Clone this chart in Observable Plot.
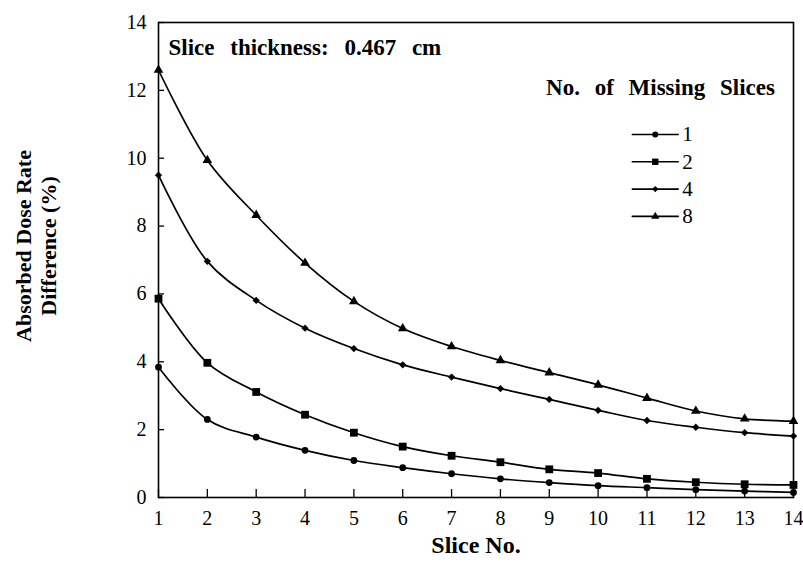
<!DOCTYPE html>
<html>
<head>
<meta charset="utf-8">
<script src="https://cdn.jsdelivr.net/npm/d3@7"></script>
<script src="https://cdn.jsdelivr.net/npm/@observablehq/plot@0.6"></script>
<style>
  body { margin: 0; background: #fff; }
  #chart { position: relative; width: 803px; height: 584px; }
  #chart svg { display: block; }
  #ytitle {
    position: absolute; left: 36px; top: 246px;
    transform: translate(-50%, -50%) rotate(-90deg);
    font-family: 'Liberation Serif', 'Times New Roman', serif;
    font-weight: bold; font-size: 22px; line-height: 25px;
    text-align: center; white-space: nowrap; color: #000;
  }
</style>
</head>
<body>
<div id="chart"><div id="ytitle">Absorbed Dose Rate<br>Difference (%)</div></div>
<script>
// Slice numbers along the x axis
const sliceNo = [1, 2, 3, 4, 5, 6, 7, 8, 9, 10, 11, 12, 13, 14];

// Absorbed dose rate difference (%) for each number of missing slices
const missing1 = [3.84, 2.30, 1.78, 1.39, 1.09, 0.88, 0.70, 0.55, 0.44, 0.35, 0.29, 0.23, 0.19, 0.15];
const missing2 = [5.86, 3.97, 3.11, 2.44, 1.91, 1.50, 1.23, 1.04, 0.83, 0.72, 0.55, 0.45, 0.39, 0.37];
const missing4 = [9.50, 6.96, 5.81, 4.99, 4.39, 3.91, 3.55, 3.21, 2.89, 2.57, 2.27, 2.07, 1.91, 1.81];
const missing8 = [12.60, 9.94, 8.32, 6.91, 5.78, 4.98, 4.45, 4.04, 3.68, 3.32, 2.93, 2.55, 2.32, 2.25];

const seriesNames = ["1", "2", "4", "8"];
const seriesValues = [missing1, missing2, missing4, missing8];

// Tick labels
const xTicks = sliceNo;
const yTicks = [0, 2, 4, 6, 8, 10, 12, 14];

// Marker shape and size per series
const symbols = ["circle", "square", "diamond2", "triangle"];
const markerR = [3.4, 4.4, 3.3, 3.6];
const legendR = [3.0, 3.6, 2.8, 3.0];

const serif = "'Liberation Serif', 'Times New Roman', serif";

// Long-format table built from the arrays above
const series = seriesNames.map((name, i) =>
  sliceNo.map((s, j) => ({slice: s, value: seriesValues[i][j], name}))
);

// Legend rows (data-space placement inside the plot frame)
const legendTop = 10.70, legendStep = 0.805;
const legendX0 = 10.70, legendX1 = 11.64, legendXm = 11.17, legendXt = 11.72;
const legendRows = seriesNames.map((name, i) => ({name, y: legendTop - i * legendStep}));

const marks = [
  Plot.frame({stroke: "black", strokeWidth: 1.6}),
  // inward tick marks
  Plot.axisY({ticks: yTicks, tickSize: -6, tickFormat: () => "", label: null, strokeWidth: 1.3}),
  Plot.axisX({ticks: xTicks, tickSize: -8, tickFormat: () => "", label: null, strokeWidth: 1.3}),
  // tick labels
  Plot.axisY({ticks: yTicks, tickSize: 0, tickPadding: 12, label: null, fontSize: 20}),
  Plot.axisX({ticks: xTicks, tickSize: 0, tickPadding: 13, label: null, fontSize: 20}),
];

series.forEach((rows, i) => {
  marks.push(Plot.line(rows, {x: "slice", y: "value", curve: "catmull-rom", stroke: "black", strokeWidth: 1.7}));
  marks.push(Plot.dot(rows, {x: "slice", y: "value", symbol: () => symbols[i], r: markerR[i], fill: "black", stroke: "none"}));
});

// Legend
legendRows.forEach((row, i) => {
  marks.push(Plot.line([{x: legendX0, y: row.y}, {x: legendX1, y: row.y}], {x: "x", y: "y", stroke: "black", strokeWidth: 1.6}));
  marks.push(Plot.dot([{x: legendXm, y: row.y}], {x: "x", y: "y", symbol: () => symbols[i], r: legendR[i], fill: "black", stroke: "none"}));
  marks.push(Plot.text([{x: legendXt, y: row.y, t: row.name}], {x: "x", y: "y", text: "t", textAnchor: "start", fontSize: 21}));
});

marks.push(
  Plot.text(["No. of Missing Slices"], {x: 13.62, y: 12.08, text: d => d, textAnchor: "end", fontSize: 23, fontWeight: "bold"}),
  Plot.text(["Slice thickness: 0.467 cm"], {frameAnchor: "top-left", dx: 10, dy: 16, text: d => d, textAnchor: "start", fontSize: 23, fontWeight: "bold"}),
  Plot.text(["Slice No."], {frameAnchor: "bottom", dy: 55, text: d => d, fontSize: 24, fontWeight: "bold"})
);

const chart = Plot.plot({
  width: 803,
  height: 584,
  marginLeft: 158,
  marginRight: 10,
  marginTop: 22,
  marginBottom: 87,
  style: {fontFamily: serif, fontSize: "20px", color: "black", background: "#fff"},
  x: {domain: [1, 14], axis: null},
  y: {domain: [0, 14], axis: null},
  marks
});

// wider word spacing for the bold annotations
d3.select(chart).selectAll("text").each(function () {
  const t = this.textContent;
  if (t.startsWith("Slice thickness")) this.style.wordSpacing = "10px";
  if (t.startsWith("No. of")) this.style.wordSpacing = "9px";
});

document.getElementById("chart").appendChild(chart);
</script>
</body>
</html>
